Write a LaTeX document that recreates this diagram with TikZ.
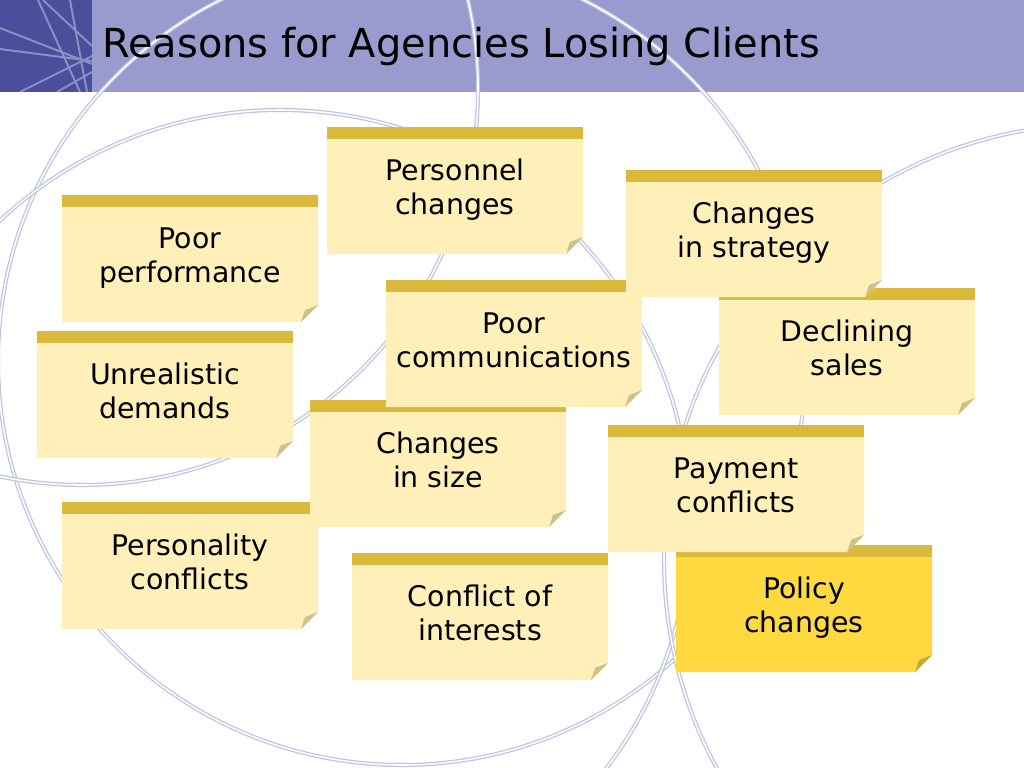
\documentclass[tikz,border=0pt]{standalone}
\usepackage{fontspec}
\setmainfont{DejaVu Sans}
\usepackage{tikz}
\usetikzlibrary{calc}
\definecolor{title-blue}{RGB}{153,155,206}
\definecolor{logo-blue}{RGB}{75,78,155}
\definecolor{logo-line}{RGB}{138,143,198}
\definecolor{ring-blue}{RGB}{190,196,226}
\definecolor{note-pale}{RGB}{255,240,185}
\definecolor{note-band}{RGB}{219,185,60}
\definecolor{note-fold}{RGB}{207,193,140}
\definecolor{policy-gold}{RGB}{255,217,64}
\definecolor{policy-fold}{RGB}{201,168,58}
\tikzstyle{ring}=[draw=ring-blue,line width=0.9pt,double=white,double distance=1.1pt]
\tikzstyle{pale}=[fill=note-pale]
\tikzstyle{gold}=[fill=policy-gold]
\tikzstyle{notetext}=[align=center,inner sep=0pt,font={\fontsize{20.2}{24.8}\selectfont}]
\newcommand{\postit}[6]{
	\coordinate (#3-tl) at #2;
	\fill[#1] (#3-tl) -- ++(256,0) -- ++(0,110) -- ++(-17,17) -- ++(-239,0) -- cycle;
	\fill[note-band] (#3-tl) rectangle ++(256,12);
	\fill[#6] ($(#3-tl)+(239,127)$) -- ($(#3-tl)+(256,110)$) -- ($(#3-tl)+(243,115)$) -- cycle;
	\node[notetext] (#3) at ($(#3-tl)+(128,63.5)$) {\strut#4\\\strut#5};
}

\begin{document}
\begin{tikzpicture}[x=0.025cm,y=-0.025cm]
	\useasboundingbox (0,0) rectangle (1024,768);
	\fill[white] (0,0) rectangle (1024,768);
	\fill[title-blue] (92,0) rectangle (1024,92);
	\fill[logo-blue] (0,0) rectangle (92,92);
	\begin{scope}
		\clip (0,0) rectangle (92,92);
		\draw[logo-line,line width=1.4pt] (38,0) -- (80,92) (70,0) -- (87,92) (0,28) -- (92,64)
			(0,49) -- (92,61) (20,92) -- (92,56) (43,0) -- (92,46) (57,92) -- (92,72);
	\end{scope}
	\begin{scope}
		\clip (0,0) rectangle (1024,768);
		\draw[ring] (402,361) circle[radius=404];
		\draw[ring] (280,520) circle[radius=410];
		\draw[ring] (82,89) circle[radius=396];
		\draw[ring] (1100,560) circle[radius=436];
	\end{scope}
	\postit{pale}{(62,502)}{personality}{Personality}{conflicts}{note-fold}
	\postit{pale}{(310,400)}{size}{Changes}{in size}{note-fold}
	\postit{pale}{(386,280)}{communications}{Poor}{communications}{note-fold}
	\postit{pale}{(719,288)}{sales}{Declining}{sales}{note-fold}
	\postit{pale}{(626,170)}{strategy}{Changes}{in strategy}{note-fold}
	\postit{pale}{(327,127)}{personnel}{Personnel}{changes}{note-fold}
	\postit{pale}{(62,195)}{performance}{Poor}{performance}{note-fold}
	\postit{pale}{(37,331)}{demands}{Unrealistic}{demands}{note-fold}
	\postit{gold}{(676,545)}{policy}{Policy}{changes}{policy-fold}
	\postit{pale}{(608,425)}{payment}{Payment}{conflicts}{note-fold}
	\postit{pale}{(352,553)}{interests}{Conflict of}{interests}{note-fold}
	\node[anchor=base west,inner sep=0pt,font={\fontsize{28.4}{34}\selectfont}] (title) at (102,58) {Reasons for Agencies Losing Clients};
\end{tikzpicture}
\end{document}
